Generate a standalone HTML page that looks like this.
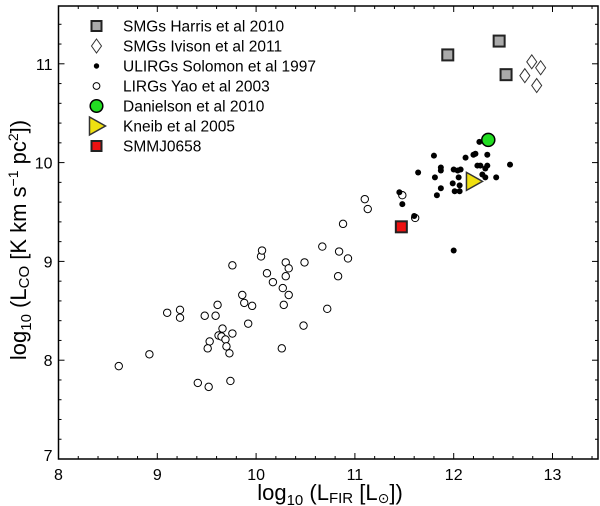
<!DOCTYPE html>
<html><head><meta charset="utf-8"><style>
html,body{margin:0;padding:0;background:#fff;}
svg{display:block;font-family:"Liberation Sans","DejaVu Sans",sans-serif;}
</style></head><body>
<svg id="chart" width="600" height="506" viewBox="0 0 600 506" xmlns="http://www.w3.org/2000/svg">
<g id="axes"></g>
<g id="marks"></g>
<g id="legend"></g>
<text x="330" y="500" text-anchor="middle" font-size="22">log<tspan font-size="15" dy="5">10</tspan><tspan dy="-5"> (L</tspan><tspan font-size="15" dy="3">FIR</tspan><tspan dy="-3"> [L</tspan><tspan font-size="14" dy="3">⊙</tspan><tspan dy="-3">])</tspan></text>
<text transform="translate(26,240) rotate(-90)" text-anchor="middle" font-size="22">log<tspan font-size="15" dy="5">10</tspan><tspan dy="-5"> (L</tspan><tspan font-size="15" dy="3">CO</tspan><tspan dy="-3"> [K km s</tspan><tspan font-size="14" dy="-8">−1</tspan><tspan dy="8"> pc</tspan><tspan font-size="14" dy="-8">2</tspan><tspan dy="8">])</tspan></text>
</svg>
<script>
const xTicks=[8,9,10,11,12,13];
const yTicks=[7,8,9,10,11];
const harrisX=[11.94,12.46,12.53];
const harrisY=[11.09,11.23,10.89];
const ivisonX=[12.72,12.79,12.88,12.84];
const ivisonY=[10.88,11.02,10.96,10.78];
const solomonX=[11.80,11.64,11.81,11.87,11.87,11.87,11.83,12.00,11.99,12.04,12.07,12.05,12.06,12.01,12.06,12.12,12.20,12.22,12.26,12.24,12.27,12.34,12.34,12.32,12.29,12.32,12.43,12.57,11.45,11.48,11.60,12.00];
const solomonY=[10.07,9.90,9.85,9.95,9.92,9.74,9.67,9.93,9.79,9.92,9.93,9.85,9.77,9.71,9.71,10.05,10.08,10.09,10.21,9.97,9.97,10.08,9.97,9.94,9.88,9.85,9.85,9.98,9.70,9.58,9.46,9.11];
const yaoX=[8.61,8.92,9.10,9.23,9.23,9.48,9.59,9.61,9.41,9.52,9.74,9.53,9.51,9.62,9.65,9.66,9.69,9.70,9.73,9.76,9.76,9.86,9.88,9.96,9.92,10.05,10.06,10.11,10.17,10.30,10.33,10.30,10.27,10.33,10.28,10.26,10.49,10.48,10.67,10.72,10.84,10.83,10.93,10.88,11.10,11.13,11.48,11.61];
const yaoY=[7.94,8.06,8.48,8.51,8.43,8.45,8.45,8.56,7.77,7.73,7.79,8.19,8.12,8.25,8.24,8.32,8.21,8.14,8.07,8.27,8.96,8.66,8.58,8.55,8.37,9.05,9.11,8.88,8.79,8.99,8.93,8.85,8.73,8.66,8.56,8.12,8.99,8.35,9.15,8.52,9.10,8.85,9.03,9.38,9.63,9.53,9.67,9.44];
const danielsonX=[12.35], danielsonY=[10.23];
const kneibX=[12.20], kneibY=[9.81];
const smmX=[11.47], smmY=[9.35];
const legendLabels=["SMGs Harris et al 2010","SMGs Ivison et al 2011","ULIRGs Solomon et al 1997","LIRGs Yao et al 2003","Danielson et al 2010","Kneib et al 2005","SMMJ0658"];

const NS="http://www.w3.org/2000/svg";
const X0=58.5,Y0=459,S=98.8,RIGHT=598,TOP=6;
const sx=v=>X0+(v-8)*S;
const sy=v=>Y0-(v-7)*S;
function mk(tag,attrs,parent){const e=document.createElementNS(NS,tag);for(const k in attrs)e.setAttribute(k,attrs[k]);parent.appendChild(e);return e;}
const axes=document.getElementById('axes'),marks=document.getElementById('marks'),legend=document.getElementById('legend');
const frame=mk('rect',{x:X0,y:TOP,width:RIGHT-X0,height:Y0-TOP,fill:'none',stroke:'#000','stroke-width':1.5},axes);


for(let i=0;i<=27;i++){const v=8+i*0.2;const x=sx(v);if(x>RIGHT)break;const major=Math.abs(v-Math.round(v))<1e-6;const L=major?6:3;
 const t1=mk('line',{x1:x,x2:x,y1:Y0,y2:Y0-L,stroke:'#000','stroke-width':1},axes);
 
 
 const t2=mk('line',{x1:x,x2:x,y1:TOP,y2:TOP+L,stroke:'#000','stroke-width':1},axes);
 
 }
for(let i=0;i<=23;i++){const v=7+i*0.2;const y=sy(v);if(y<TOP)break;const major=Math.abs(v-Math.round(v))<1e-6;const L=major?6:3;
 const t1=mk('line',{x1:X0,x2:X0+L,y1:y,y2:y,stroke:'#000','stroke-width':1},axes);
 
 
 const t2=mk('line',{x1:RIGHT,x2:RIGHT-L,y1:y,y2:y,stroke:'#000','stroke-width':1},axes);
 
 }
xTicks.forEach(v=>{const t=mk('text',{x:sx(v),y:Y0+21,'text-anchor':'middle','font-size':16},axes);t.textContent=v;
 
 });
yTicks.forEach(v=>{const t=mk('text',{x:X0-6,y:sy(v)+(v===7?2:6),'text-anchor':'end','font-size':16},axes);t.textContent=v;
 
 });

function sq(cx,cy,s,fill,p){return mk('rect',{x:cx-s/2,y:cy-s/2,width:s,height:s,fill:fill,stroke:'#222','stroke-width':2},p);}
function dia(cx,cy,p){return mk('polygon',{points:`${cx},${cy-7} ${cx+5},${cy} ${cx},${cy+7} ${cx-5},${cy}`,fill:'#fff',stroke:'#333','stroke-width':1},p);}
function circ(cx,cy,r,fill,sw,p){return mk('circle',{cx:cx,cy:cy,r:r,fill:fill,stroke:'#000','stroke-width':sw},p);}
function tri(cx,cy,p){return mk('polygon',{points:`${cx-7},${cy-9} ${cx+9},${cy} ${cx-7},${cy+9}`,fill:'#f0e010',stroke:'#333','stroke-width':1.5},p);}

yaoX.forEach((v,i)=>{const e=circ(sx(v),sy(yaoY[i]),3.7,'#fff',1,marks);
 
 });
solomonX.forEach((v,i)=>{const e=circ(sx(v),sy(solomonY[i]),3,'#000',0,marks);
 
 });
harrisX.forEach((v,i)=>{const e=sq(sx(v),sy(harrisY[i]),11,'#aaa',marks);
 
 });
ivisonX.forEach((v,i)=>{const e=dia(sx(v),sy(ivisonY[i]),marks);
 
 });
danielsonX.forEach((v,i)=>{const e=circ(sx(v),sy(danielsonY[i]),6.5,'#22dd22',1.5,marks);
 
 });
kneibX.forEach((v,i)=>{const e=tri(sx(v),sy(kneibY[i]),marks);
 
 });
smmX.forEach((v,i)=>{const e=sq(sx(v),sy(smmY[i]),11,'#ee1111',marks);
 
 });

const LX=96.5,LY0=26,LDY=20;
legendLabels.forEach((lab,i)=>{const y=LY0+i*LDY;let m;
 if(i===0)m=sq(LX,y,10,'#aaa',legend);
 else if(i===1)m=dia(LX,y,legend);
 else if(i===2)m=circ(LX,y,2.7,'#000',0,legend);
 else if(i===3)m=circ(LX,y,3.4,'#fff',1,legend);
 else if(i===4)m=circ(LX,y,6.3,'#22dd22',1.5,legend);
 else if(i===5)m=tri(LX,y,legend);
 else m=sq(LX,y,10,'#ee1111',legend);
 
 
 const t=mk('text',{x:123,y:y+5.5,'font-size':15.5},legend);t.textContent=lab;
 
 });
</script>
</body></html>
